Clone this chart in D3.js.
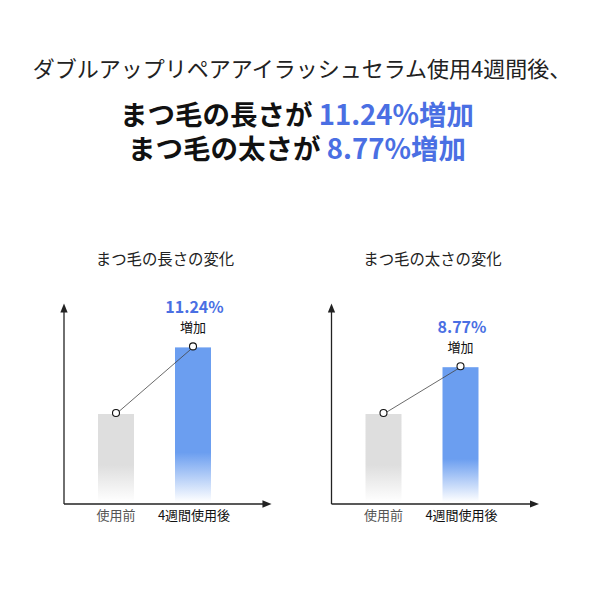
<!DOCTYPE html>
<html>
<head>
<meta charset="utf-8">
<script src="https://cdn.jsdelivr.net/npm/d3@7"></script>
<style>
  body { margin: 0; background: #fff; }
  svg { display: block; font-family: "Noto Sans CJK JP", "Noto Sans", sans-serif; }
</style>
</head>
<body>
<div class="chart"></div>
<script>
(function () {

	// data
	var categories = ["使用前", "4週間使用後"];
	var panelTitles = ["まつ毛の長さの変化", "まつ毛の太さの変化"];
	var headlineItems = ["まつ毛の長さが", "まつ毛の太さが"];
	var increasePct = ["11.24%", "8.77%"];
	// relative bar heights as drawn (before = 100)
	var lengthValues = [100, 174];
	var thicknessValues = [100, 152];

	var W = 600, H = 600;
	var blue = "#4a6fe3";

	var svg = d3.select(".chart")
		.append("svg")
		.attr("width", W)
		.attr("height", H);

	var defs = svg.append("defs");
	defs.append("marker")
		.attr("id", "arrow")
		.attr("viewBox", "0 0 10 10")
		.attr("refX", 5).attr("refY", 5)
		.attr("markerWidth", 7).attr("markerHeight", 7)
		.attr("orient", "auto-start-reverse")
		.append("path")
		.attr("d", "M0,1 L10,5 L0,9 Z")
		.attr("fill", "#222");

	function grad(id, color, stopAt) {
		var g = defs.append("linearGradient")
			.attr("id", id)
			.attr("x1", 0).attr("y1", 0).attr("x2", 0).attr("y2", 1);
		g.append("stop").attr("offset", "0%").attr("stop-color", color);
		g.append("stop").attr("offset", stopAt).attr("stop-color", color);
		g.append("stop").attr("offset", "100%").attr("stop-color", "#fff");
	}
	grad("g-grey", "#dedede", "58%");
	grad("g-blue", "#6b9ef0", "68%");

	// header
	svg.append("text")
		.attr("x", 302).attr("y", 77)
		.attr("text-anchor", "middle")
		.attr("font-size", 22)
		.attr("fill", "#222")
		.text("ダブルアップリペアアイラッシュセラム使用4週間後、");

	headlineItems.forEach(function (t, i) {
		var tx = svg.append("text")
			.attr("x", 297).attr("y", 124.5 + i * 34.5)
			.attr("text-anchor", "middle")
			.attr("font-size", 27.5)
			.attr("font-weight", "bold")
			.attr("fill", "#111");
		tx.append("tspan").text(t + " ");
		tx.append("tspan").attr("fill", blue).text(increasePct[i] + "増加");
	});

	var y = d3.scaleLinear()
		.domain([0, 220])
		.range([504, 306]);

	function drawPanel(ox, title, values, pct) {
		var g = svg.append("g").attr("transform", "translate(" + ox + ",0)");

		var x = d3.scalePoint()
			.domain(categories)
			.range([52, 129]);
		var bw = 36;

		g.append("text")
			.attr("x", 101).attr("y", 265)
			.attr("text-anchor", "middle")
			.attr("font-size", 15.4)
			.attr("fill", "#222")
			.text(title);

		g.selectAll("rect.bar")
			.data(values)
			.enter().append("rect")
			.attr("class", "bar")
			.attr("x", function (d, i) { return x(categories[i]) - bw / 2; })
			.attr("y", function (d) { return y(d); })
			.attr("width", bw)
			.attr("height", function (d) { return y(0) - y(d) - 2; })
			.attr("fill", function (d, i) { return i ? "url(#g-blue)" : "url(#g-grey)"; });

		// axes
		g.append("line")
			.attr("x1", 0).attr("y1", y(0))
			.attr("x2", 0).attr("y2", y.range()[1] + 2)
			.attr("stroke", "#222").attr("stroke-width", 1.3)
			.attr("marker-end", "url(#arrow)");
		g.append("line")
			.attr("x1", 0).attr("y1", y(0))
			.attr("x2", 203).attr("y2", y(0))
			.attr("stroke", "#222").attr("stroke-width", 1.3)
			.attr("marker-end", "url(#arrow)");

		g.selectAll("text.cat")
			.data(categories)
			.enter().append("text")
			.attr("class", "cat")
			.attr("x", function (d, i) { return x(d) + (i ? 1 : 0); })
			.attr("y", 520)
			.attr("text-anchor", "middle")
			.attr("font-size", 13)
			.attr("fill", function (d, i) { return i ? "#111" : "#555"; })
			.text(function (d) { return d; });

		var line = d3.line()
			.x(function (d, i) { return x(categories[i]); })
			.y(function (d) { return y(d); });
		g.append("path")
			.datum(values)
			.attr("d", line)
			.attr("fill", "none")
			.attr("stroke", "#444")
			.attr("stroke-width", 0.8);

		g.selectAll("circle")
			.data(values)
			.enter().append("circle")
			.attr("cx", function (d, i) { return x(categories[i]); })
			.attr("cy", function (d) { return y(d) - 1; })
			.attr("r", 3.5)
			.attr("fill", "#fff")
			.attr("stroke", "#111")
			.attr("stroke-width", 1.1);

		var top = y(values[1]);
		g.append("text")
			.attr("x", x(categories[1]) + 1.5).attr("y", top - 34.5)
			.attr("text-anchor", "middle")
			.attr("font-size", 16)
			.attr("font-weight", "bold")
			.attr("fill", blue)
			.text(pct);
		g.append("text")
			.attr("x", x(categories[1])).attr("y", top - 15.5)
			.attr("text-anchor", "middle")
			.attr("font-size", 13)
			.attr("fill", "#111")
			.text("増加");
	}

	drawPanel(64, panelTitles[0], lengthValues, increasePct[0]);
	drawPanel(331.5, panelTitles[1], thicknessValues, increasePct[1]);

})();
</script>
</body>
</html>
